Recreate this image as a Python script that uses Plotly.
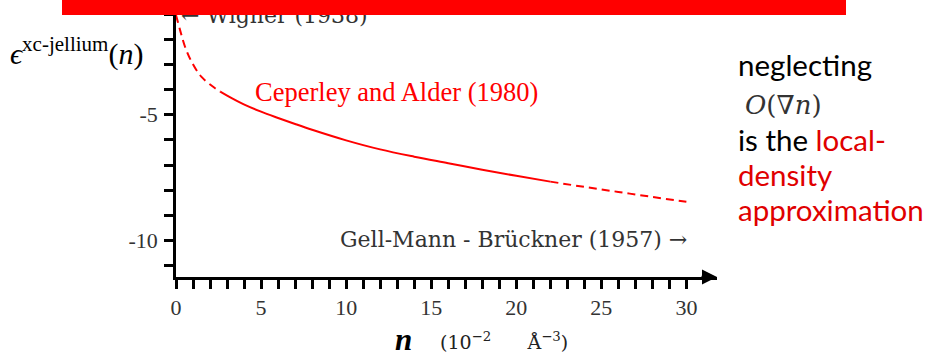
import plotly.graph_objects as go

# Exchange-correlation energy per electron of the jellium model (eV) vs density n (10^-2 Å^-3)
n_low = [0.0, 0.24, 0.53, 0.92, 1.5, 2.3, 2.6]
eps_low = [-1.04, -1.64, -2.3, -2.9, -3.5, -3.95, -4.08]

n_cal = [2.6, 3.3, 4.05, 5.0, 6.0, 7.0, 8.0, 10.0, 12.0, 14.0, 16.0, 18.0, 20.0, 22.0]
eps_cal = [-4.08, -4.35, -4.61, -4.88, -5.13, -5.37, -5.60, -6.02, -6.38, -6.67, -6.93, -7.19, -7.43, -7.66]

n_high = [22.0, 24.0, 26.0, 28.0, 30.0]
eps_high = [-7.66, -7.87, -8.07, -8.27, -8.46]

x_ticks = list(range(0, 31))
x_labels = [str(v) if v % 5 == 0 else "" for v in x_ticks]
y_ticks = list(range(-11, 0))
y_labels = ["-" + str(-v) if v % 5 == 0 else "" for v in y_ticks]

X_RANGE = [0, 31.8]
Y_RANGE = [-11.45, -1.0]

W_FIG, H_FIG = 929, 356
L, R, T, B = 176, 212, 14, 79
PW, PH = W_FIG - L - R, H_FIG - T - B


def px(xp):
    return (xp - L) / PW


def py(yp):
    return 1 - (yp - T) / PH


SERIF = "Liberation Serif"
CM = "DejaVu Serif"
SANS = "Lato"
RED = "#ff0000"
RED_TXT = "#e00000"
DASH = "8px,5px"

fig = go.Figure()

fig.add_trace(go.Scatter(x=n_low, y=eps_low, mode="lines", line_shape="spline",
                         line=dict(color=RED, width=2, dash=DASH), hoverinfo="skip"))
fig.add_trace(go.Scatter(x=n_cal, y=eps_cal, mode="lines", line_shape="spline",
                         line=dict(color=RED, width=2), hoverinfo="skip"))
fig.add_trace(go.Scatter(x=n_high, y=eps_high, mode="lines", line_shape="spline",
                         line=dict(color=RED, width=2, dash=DASH), hoverinfo="skip"))


def note(xp, yp, text, font, xanchor="left", yanchor="top"):
    return dict(x=px(xp), y=py(yp), xref="paper", yref="paper", xanchor=xanchor,
                yanchor=yanchor, text=text, font=font, showarrow=False, borderpad=0)


NB = "\u00a0"

annotations = [
    # Wigner limit label, partly hidden by the banner drawn after it
    note(180, 1.6, "\u2190 Wigner (1938)", dict(family=CM, size=22, color="#333333")),
    # red banner across the top
    dict(x=px(62), y=py(0), xref="paper", yref="paper", xanchor="left", yanchor="top",
         text=" ", width=784, height=15, bgcolor=RED, borderpad=0, borderwidth=0,
         font=dict(size=1, color=RED), showarrow=False),
    note(254, 76.4, "Ceperley and Alder (1980)", dict(family=SERIF, size=26.5, color=RED)),
    note(688, 226.3, "Gell-Mann - Brückner (1957) \u2192",
         dict(family=CM, size=22, color="#333333"), xanchor="right"),
    # axis arrowhead
    dict(x=X_RANGE[1], y=Y_RANGE[0], ax=X_RANGE[1] - 1.0, ay=Y_RANGE[0], xref="x", yref="y",
         axref="x", ayref="y", text="", showarrow=True, arrowhead=2, arrowsize=1.2,
         arrowwidth=2.5, arrowcolor="black"),
    # y title
    note(9, 71.5, "<i>\u03f5</i><sup>xc-jellium</sup>(<i>n</i>)",
         dict(family=SERIF, size=30, color="black"), yanchor="bottom"),
    # x title
    note(394, 321.4, "<b><i>n</i></b>", dict(family=SERIF, size=31, color="black")),
    note(439, 353.5,
         "(10<sup>\u22122</sup>" + NB * 6 + "\u00c5<sup>\u22123</sup>)",
         dict(family=CM, size=19, color="#222222"), yanchor="bottom"),
    # side note
    note(737, 45.9, "neglecting", dict(family=SANS, size=29.5, color="black")),
    note(744, 88.9, "<i>O</i>(\u2207<i>n</i>)", dict(family=CM, size=26, color="#333333")),
    note(737, 120.9, "is the <span style='color:%s'>local-</span>" % RED_TXT,
         dict(family=SANS, size=29.5, color="black")),
    note(737, 155.9, "density", dict(family=SANS, size=29.5, color=RED_TXT)),
    note(737, 190.9, "approximation", dict(family=SANS, size=29.5, color=RED_TXT)),
]

fig.update_layout(
    width=W_FIG, height=H_FIG,
    margin=dict(l=L, r=R, t=T, b=B),
    paper_bgcolor="white", plot_bgcolor="white",
    showlegend=False,
    annotations=annotations,
    xaxis=dict(range=X_RANGE, showgrid=False, zeroline=False, showline=True,
               linecolor="black", linewidth=2.5, ticks="outside", ticklen=9, tickwidth=2.5,
               tickcolor="black", tickvals=x_ticks, ticktext=x_labels,
               tickfont=dict(family=SERIF, size=22, color="#333333")),
    yaxis=dict(range=Y_RANGE, showgrid=False, zeroline=False, showline=True,
               linecolor="black", linewidth=2.5, ticks="outside", ticklen=9, tickwidth=2.5,
               tickcolor="black", tickvals=y_ticks, ticktext=y_labels, ticklabelstandoff=2,
               tickfont=dict(family=SERIF, size=22, color="#333333")),
)

fig.write_html("out.html")
